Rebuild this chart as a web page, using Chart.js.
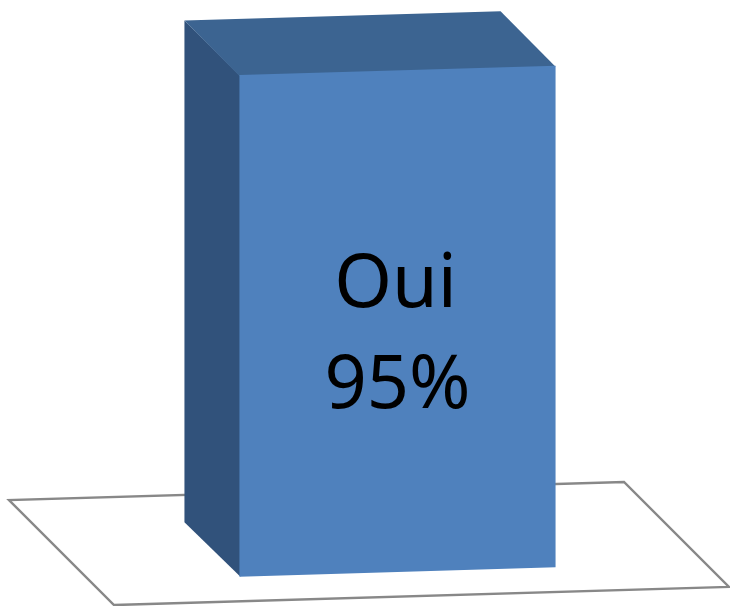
<!DOCTYPE html>
<html>
<head>
<meta charset="utf-8">
<script src="https://cdn.jsdelivr.net/npm/chart.js@4/dist/chart.umd.min.js"></script>
<style>
  html, body { margin: 0; padding: 0; background: #ffffff; }
  #wrap { width: 730px; height: 606px; position: relative; }
</style>
</head>
<body>
<div id="wrap"><canvas id="c"></canvas></div>
<script>
// ---- data ----
const categories = ['Oui'];
const values = [95];
const valueSuffix = '%';

// ---- style constants ----
const SKEW = -0.0295;            // vertical slope of front edges (px per px)
const BAR_DEPTH = { x: -55, y: -54.5 };
const FLOOR_FRONT = 24;          // floor front edge in front of bar plane
const FLOOR_BACK = 81;           // floor back edge behind bar plane
const SEAM = 1;                  // overlap between faces to hide anti-alias seams
const COLORS = { front: '#4F81BD', top: '#3C6491', side: '#31527B', floor: '#888888' };

function poly(ctx, pts, fill, stroke, lw) {
  ctx.beginPath();
  ctx.moveTo(pts[0][0], pts[0][1]);
  for (let i = 1; i < pts.length; i++) ctx.lineTo(pts[i][0], pts[i][1]);
  ctx.closePath();
  if (fill) { ctx.fillStyle = fill; ctx.fill(); }
  if (stroke) { ctx.strokeStyle = stroke; ctx.lineWidth = lw; ctx.lineJoin = 'miter'; ctx.stroke(); }
}

const bar3d = {
  id: 'bar3d',
  beforeDatasetsDraw(chart) {
    const { ctx, chartArea: ca, scales } = chart;
    const base = scales.y.getPixelForValue(0);
    const cx = (ca.left + ca.right) / 2;
    const yAt = x => base + SKEW * (x - cx);
    const pts = [
      [ca.left + FLOOR_FRONT, yAt(ca.left) + FLOOR_FRONT],
      [ca.right + FLOOR_FRONT, yAt(ca.right) + FLOOR_FRONT],
      [ca.right - FLOOR_BACK, yAt(ca.right) - FLOOR_BACK],
      [ca.left - FLOOR_BACK, yAt(ca.left) - FLOOR_BACK]
    ];
    ctx.save();
    poly(ctx, pts, '#ffffff', COLORS.floor, 2.4);
    ctx.restore();
  },
  afterDatasetsDraw(chart) {
    const { ctx } = chart;
    const meta = chart.getDatasetMeta(0);
    ctx.save();
    meta.data.forEach((bar, i) => {
      const { x, y, base, width } = bar.getProps(['x', 'y', 'base', 'width'], true);
      const l = x - width / 2, r = x + width / 2;
      const yt = xx => y + SKEW * (xx - x);
      const yb = xx => base + SKEW * (xx - x);
      const dx = BAR_DEPTH.x, dy = BAR_DEPTH.y;
      // side (extends slightly under the front face)
      poly(ctx, [[l + SEAM, yt(l) + SEAM], [l + dx, yt(l) + dy], [l + dx, yb(l) + dy], [l + SEAM, yb(l)]], COLORS.side);
      // top (extends slightly under the front face)
      poly(ctx, [[l, yt(l) + SEAM], [r, yt(r) + SEAM], [r + dx, yt(r) + dy], [l + dx, yt(l) + dy]], COLORS.top);
      // front
      poly(ctx, [[l, yt(l)], [r, yt(r)], [r, yb(r)], [l, yb(l)]], COLORS.front);
      // label
      const mid = (y + base) / 2;
      ctx.fillStyle = '#000000';
      ctx.font = '74px "Noto Sans", "Open Sans", sans-serif';
      ctx.textAlign = 'center';
      ctx.textBaseline = 'alphabetic';
      ctx.fillText(categories[i], x - 2, mid - 14);
      ctx.fillText(values[i] + valueSuffix, x, mid + 87);
    });
    ctx.restore();
  }
};

new Chart(document.getElementById('c'), {
  type: 'bar',
  data: {
    labels: categories,
    datasets: [{
      data: values,
      backgroundColor: 'rgba(0,0,0,0)',
      borderWidth: 0,
      barPercentage: 0.514,
      categoryPercentage: 1
    }]
  },
  options: {
    responsive: true,
    maintainAspectRatio: false,
    animation: false,
    layout: { padding: { left: 90, right: 25, top: 44, bottom: 34 } },
    plugins: { legend: { display: false }, tooltip: { enabled: false }, title: { display: false } },
    scales: {
      x: { display: false },
      y: { display: false, min: 0, max: 100 }
    }
  },
  plugins: [bar3d]
});
</script>
</body>
</html>
